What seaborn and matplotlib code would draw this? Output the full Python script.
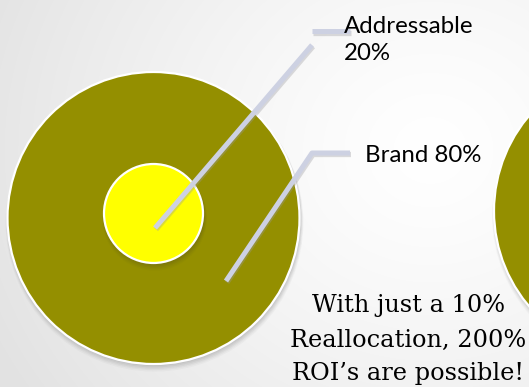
import numpy as np
import pandas as pd
import matplotlib
matplotlib.use("Agg")
import matplotlib.pyplot as plt
from matplotlib.patches import Circle
import seaborn as sns

# ---- data ----
segments = ["Addressable", "Brand"]
shares = [20, 80]
message_lines = ["With just a 10%", "Reallocation, 200%", "ROI\u2019s are possible!"]

# ---- styling ----
sns.set_theme(style="white")
plt.rcParams["font.family"] = ["Lato", "DejaVu Sans"]

OLIVE = "#948F00"
YELLOW = "#FFFF00"
LINE = "#CDD1E2"

W, H = 529, 387
fig = plt.figure(figsize=(W / 100, H / 100), dpi=100)
ax = fig.add_axes([0, 0, 1, 1])
ax.set_xlim(0, W)
ax.set_ylim(H, 0)
ax.axis("off")

# background gradient (white towards upper right, grey towards left/bottom)
yy, xx = np.mgrid[0:H, 0:W]
d = np.sqrt(((xx - 430) / 1.0) ** 2 + ((yy - 150) / 0.9) ** 2)
d = np.clip(d / 480, 0, 1)
val = 1.0 - 0.11 * d ** 1.3
bg = np.dstack([val, val, val])
ax.imshow(bg, extent=(0, W, H, 0), zorder=0, interpolation="bilinear")


def disc(cx, cy, r, color, z):
    # soft drop shadow
    for k, a in zip(range(5), [0.05, 0.05, 0.05, 0.04, 0.03]):
        ax.add_patch(Circle((cx + 1.0, cy + 1.5 + k * 0.8), r + 0.5 + k * 0.6,
                            facecolor="#303030", edgecolor="none", alpha=a, zorder=z))
    ax.add_patch(Circle((cx, cy), r, facecolor=color, edgecolor="white",
                        linewidth=1.6, zorder=z + 0.5))


# Left target: brand (outer) and addressable (inner)
disc(153.5, 218, 146, OLIVE, 2)
disc(153.5, 213.5, 49.5, YELLOW, 3)
# Right (cropped) circle
disc(641, 211, 147, OLIVE, 2)

# callout lines
callouts = {
    "Addressable": [((155, 228), (312, 45)), ((312, 31), (350, 31))],
    "Brand": [((226, 281), (312, 153), (350, 153))],
}
for name, parts in callouts.items():
    for pts in parts:
        xs = [p[0] for p in pts]
        ys = [p[1] for p in pts]
        ax.plot([x + 1 for x in xs], [y + 1.5 for y in ys], color="#9a9aa0",
                alpha=0.35, lw=3.8, solid_capstyle="butt", solid_joinstyle="round", zorder=5)
        ax.plot(xs, ys, color=LINE, lw=3.6, solid_capstyle="butt",
                solid_joinstyle="round", zorder=6)

# segment labels
ax.text(344, 33, segments[0], fontsize=17.3, color="black", ha="left", va="baseline", zorder=7)
ax.text(344, 60, f"{shares[0]}%", fontsize=17.3, color="black", ha="left", va="baseline", zorder=7)
ax.text(365, 162, f"{segments[1]} {shares[1]}%", fontsize=17.3, color="black",
        ha="left", va="baseline", zorder=7)

# message
for line, yb in zip(message_lines, [312, 347, 380]):
    ax.text(408.5, yb, line, fontsize=17.3, family=["DejaVu Serif"], color="black",
            ha="center", va="baseline", zorder=7)

fig.savefig("out.png", dpi=100)
